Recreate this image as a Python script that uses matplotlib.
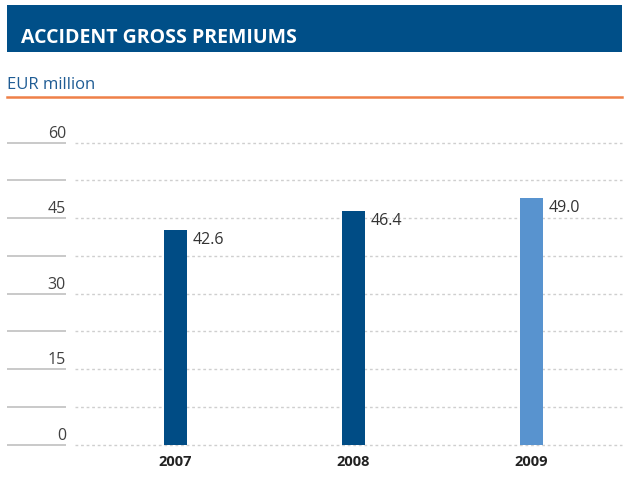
import matplotlib
matplotlib.use("Agg")
import matplotlib.pyplot as plt
from matplotlib.patches import Rectangle
from matplotlib.lines import Line2D
import matplotlib.transforms as mtransforms

years = ["2007", "2008", "2009"]
values = [42.6, 46.4, 49.0]
bar_colors = ["#004c85", "#004c85", "#5893cf"]
yticks_major = [0, 15, 30, 45, 60]
ygrid = [0, 7.5, 15, 22.5, 30, 37.5, 45, 52.5, 60]

W, H = 625, 486
fig = plt.figure(figsize=(W / 100, H / 100), dpi=100)
plt.rcParams['font.family'] = ['Open Sans', 'DejaVu Sans']

def fx(px):
    return px / W

def fy(py):
    return 1 - py / H

# Title bar
fig.patches.append(Rectangle((fx(7), fy(52)), fx(615), 47 / H, transform=fig.transFigure,
                             facecolor="#004f88", edgecolor="none"))
fig.text(fx(21), fy(43), "ACCIDENT GROSS PREMIUMS", color="white", fontsize=14,
         fontweight="bold", va="baseline", ha="left")
fig.text(fx(7), fy(89), "EUR million", color="#1f5c94", fontsize=12, va="baseline", ha="left")
fig.lines.append(Line2D([fx(7), fx(622)], [fy(97), fy(97)], transform=fig.transFigure,
                        color="#ef8048", lw=1.8))

# Axes: x from 7 to 622 px, y 0 at 444.5 px, 60 at 142.5 px
ax = fig.add_axes([fx(7), fy(444.5), fx(615), (444.5 - 142.5) / H])
ax.set_ylim(0, 60)
ax.set_xlim(-0.947, 2.508)
ax.axis("off")

ytrans = ax.get_yaxis_transform()
sx_end = (66 - 7) / 615
dx_start = (75 - 7) / 615
for g in ygrid:
    ax.plot([0, sx_end], [g, g], transform=ytrans, color="#c9c9c9", lw=1.4,
            solid_capstyle="butt", clip_on=False, zorder=1)
    ax.plot([dx_start, 1], [g, g], transform=ytrans, color="#cfcfcf", lw=1.0,
            linestyle=(0, (2, 2)), clip_on=False, zorder=1)

off = mtransforms.offset_copy(ytrans, fig=fig, x=0, y=5, units="dots")
for t in yticks_major:
    ax.text(sx_end, t, f"{t}", transform=off, ha="right", va="baseline",
            fontsize=11.5, color="#404040")

xs = list(range(len(years)))
ax.bar(xs, values, width=0.129, color=bar_colors, zorder=3)

for x, v, yr in zip(xs, values, years):
    ax.annotate(f"{v:.1f}", xy=(x + 0.129 / 2, v), xytext=(4, -1.2),
                textcoords="offset points", ha="left", va="top", fontsize=11.5,
                color="#333333")
    ax.annotate(yr, xy=(x, 0), xytext=(0, -12.5), textcoords="offset points",
                ha="center", va="center", fontsize=10.5, fontweight="bold",
                color="#222222", annotation_clip=False)

fig.savefig("out.png", dpi=100)
